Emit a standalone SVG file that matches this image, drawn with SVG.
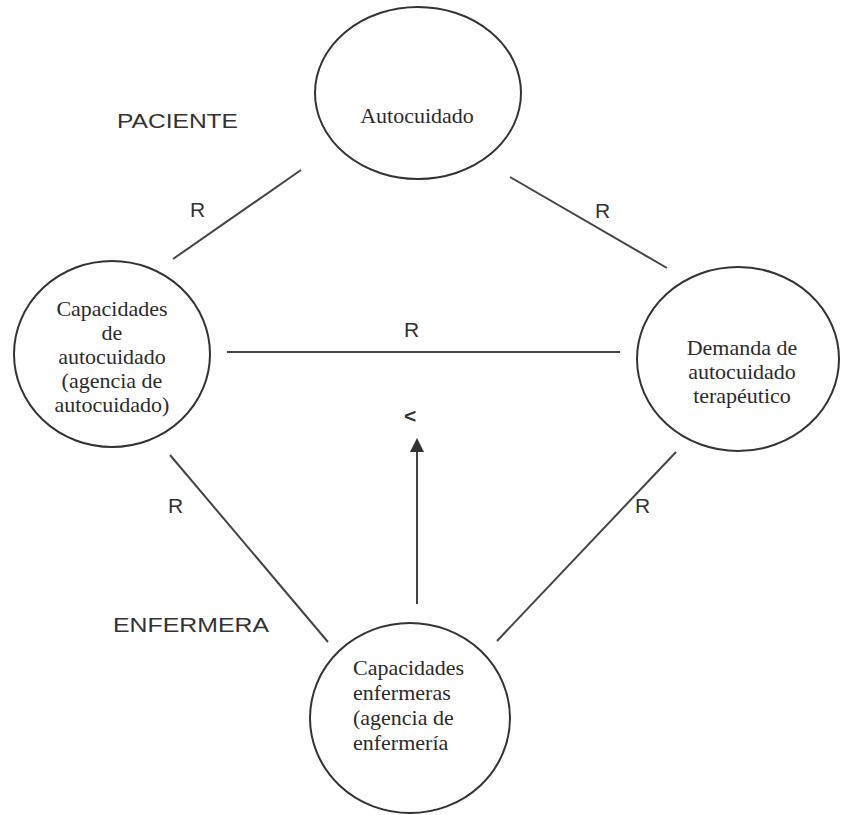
<svg xmlns="http://www.w3.org/2000/svg" width="841" height="815" viewBox="0 0 841 815">
<defs>
<style>
.node ellipse{fill:#fff;stroke:#333;stroke-width:2}
.nt{font-family:"Liberation Serif","Times New Roman",serif;font-size:22px;fill:#2b2b2b;text-anchor:middle}
.lbl{font-family:"Liberation Sans",Arial,sans-serif;font-size:21px;fill:#333}
.conn line{stroke:#444;stroke-width:2}
</style>
<marker id="ah" markerWidth="7" markerHeight="7" refX="6" refY="3.5" orient="auto" markerUnits="strokeWidth">
<path d="M0,0 L7,3.5 L0,7 Z" fill="#333"/>
</marker>
</defs>
<rect width="841" height="815" fill="#fff"/>
<g id="connectors" class="conn">
<line x1="173" y1="259" x2="301" y2="170"/>
<line x1="510" y1="177" x2="667" y2="268"/>
<line x1="227" y1="352" x2="620" y2="352"/>
<line x1="170" y1="455" x2="328" y2="642"/>
<line x1="676" y1="452" x2="497" y2="641"/>
<line x1="417" y1="604" x2="417" y2="440" marker-end="url(#ah)"/>
</g>
<g id="labels" class="lbl">
<text x="117" y="128" textLength="121" lengthAdjust="spacingAndGlyphs">PACIENTE</text>
<text x="113" y="632" textLength="156" lengthAdjust="spacingAndGlyphs">ENFERMERA</text>
<text x="190" y="217">R</text>
<text x="595" y="218">R</text>
<text x="404" y="337">R</text>
<text x="168" y="513">R</text>
<text x="635" y="513">R</text>
<text x="404" y="423" font-weight="bold">&lt;</text>
</g>
<g id="autocuidado" class="node">
<ellipse cx="418" cy="93" rx="103" ry="86"/>
<text class="nt" x="417" y="123" font-size="23">Autocuidado</text>
</g>
<g id="capacidades-autocuidado" class="node">
<ellipse cx="112" cy="354" rx="98" ry="93"/>
<text class="nt" x="112" y="316">Capacidades</text>
<text class="nt" x="112" y="340">de</text>
<text class="nt" x="112" y="364">autocuidado</text>
<text class="nt" x="112" y="388">(agencia de</text>
<text class="nt" x="112" y="412">autocuidado)</text>
</g>
<g id="demanda" class="node">
<ellipse cx="738" cy="359" rx="101" ry="92"/>
<text class="nt" x="742" y="355">Demanda de</text>
<text class="nt" x="742" y="379">autocuidado</text>
<text class="nt" x="742" y="403">terapéutico</text>
</g>
<g id="capacidades-enfermeras" class="node">
<ellipse cx="410" cy="718" rx="100" ry="95"/>
<text class="nt" x="353" y="675" font-size="23" style="text-anchor:start">Capacidades</text>
<text class="nt" x="353" y="700" font-size="23" style="text-anchor:start">enfermeras</text>
<text class="nt" x="353" y="725" font-size="23" style="text-anchor:start">(agencia de</text>
<text class="nt" x="353" y="750" font-size="23" style="text-anchor:start">enfermería</text>
</g>
</svg>
